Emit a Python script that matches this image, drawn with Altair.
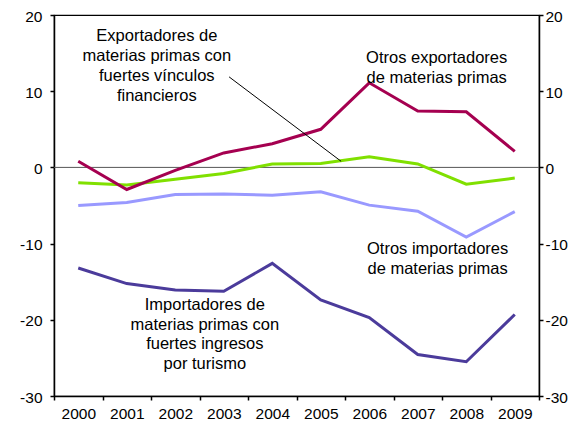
import altair as alt
import pandas as pd

years = list(range(2000, 2010))
otros_export = [0.8, -2.9, -0.4, 1.9, 3.1, 5.0, 11.1, 7.4, 7.3, 2.1]
vinculos = [-2.0, -2.3, -1.55, -0.8, 0.45, 0.5, 1.4, 0.45, -2.2, -1.4]
otros_import = [-5.0, -4.6, -3.55, -3.5, -3.65, -3.2, -4.95, -5.75, -9.15, -5.8]
turismo = [-13.2, -15.25, -16.1, -16.25, -12.6, -17.4, -19.7, -24.55, -25.5, -19.3]

series_names = ["Otros importadores", "Turismo", "Vínculos financieros", "Otros exportadores"]
series_vals = [otros_import, turismo, vinculos, otros_export]
series_colors = ["#9999FF", "#4B3B9B", "#80E000", "#A50050"]

y_ticks = [-30, -20, -10, 0, 10, 20]
x_edges = [1999.5 + i for i in range(11)]

ann_text = [
    "Exportadores de", "materias primas con", "fuertes vínculos", "financieros",
    "Otros exportadores", "de materias primas",
    "Otros importadores", "de materias primas",
    "Importadores de", "materias primas con", "fuertes ingresos", "por turismo",
]
ann_x = [2001.62] * 4 + [2007.39] * 2 + [2007.41] * 2 + [2002.61] * 4
ann_y = [17.25, 14.63, 12.01, 9.39,
         14.33, 11.71,
         -10.67, -13.29,
         -18.0, -20.62, -23.24, -25.86]

leader_x = [2003.11]
leader_x2 = [2005.42]
leader_y = [11.88]
leader_y2 = [0.8]

rows = []
for name, vals in zip(series_names, series_vals):
    for yr, v in zip(years, vals):
        rows.append({"year": yr, "value": v, "series": name})
df = pd.DataFrame(rows)

FONT = "Liberation Sans"
FS = 15.5
FS_ANN = 16.5
HYPHEN_LABEL = "datum.value < 0 ? '-' + abs(datum.value) : '' + datum.value"

xscale = alt.Scale(domain=[1999.5, 2009.5], nice=False, zero=False)
yscale = alt.Scale(domain=[-30, 20], nice=False, zero=False)

lines = alt.Chart(df).mark_line(strokeWidth=3).encode(
    x=alt.X("year:Q", scale=xscale, title=None,
            axis=alt.Axis(orient="bottom", values=years, format="d", ticks=False, tickSize=0,
                          labelPadding=10, domain=True, domainColor="black", domainWidth=1.5,
                          grid=False, labelFont=FONT, labelFontSize=FS, labelColor="black")),
    y=alt.Y("value:Q", scale=yscale, title=None,
            axis=alt.Axis(orient="left", values=y_ticks, tickSize=4, tickColor="black",
                          tickWidth=1.5, labelPadding=8, domainColor="black", domainWidth=1.5,
                          labelExpr=HYPHEN_LABEL, labelOffset=1,
                          grid=False, labelFont=FONT, labelFontSize=FS, labelColor="black")),
    color=alt.Color("series:N", scale=alt.Scale(domain=series_names, range=series_colors), legend=None),
    order=alt.Order("year:Q"),
)

zero_df = pd.DataFrame({"x0": [x_edges[0]], "x1": [x_edges[-1]], "y": [0]})
zero = alt.Chart(zero_df).mark_rule(color="#555555", strokeWidth=1).encode(
    x=alt.X("x0:Q", scale=xscale, title=None,
            axis=alt.Axis(orient="bottom", values=x_edges, labels=False, tickSize=4,
                          tickColor="black", tickWidth=1.5, domain=False, grid=False)),
    x2="x1:Q",
    y=alt.Y("y:Q", scale=yscale, title=None,
            axis=alt.Axis(orient="right", values=y_ticks, tickSize=4, tickColor="black",
                          tickWidth=1.5, labelPadding=2, domainColor="black", domainWidth=1.5,
                          labelExpr=HYPHEN_LABEL, labelOffset=1,
                          grid=False, labelFont=FONT, labelFontSize=FS, labelColor="black")),
)

ann_df = pd.DataFrame({"x": ann_x, "y": ann_y, "t": ann_text})
ann = alt.Chart(ann_df).mark_text(font=FONT, fontSize=FS_ANN, color="black", align="center",
                                  baseline="middle").encode(
    x=alt.X("x:Q", scale=xscale, axis=None),
    y=alt.Y("y:Q", scale=yscale, axis=None),
    text="t:N",
)

lead_df = pd.DataFrame({"x": leader_x, "x2": leader_x2, "y": leader_y, "y2": leader_y2})
leader = alt.Chart(lead_df).mark_rule(color="black", strokeWidth=1).encode(
    x=alt.X("x:Q", scale=xscale, axis=None),
    x2="x2:Q",
    y=alt.Y("y:Q", scale=yscale, axis=None),
    y2="y2:Q",
)

chart = alt.layer(zero, lines, leader, ann).resolve_axis(
    x="independent", y="independent"
).properties(
    width=485, height=381,
    autosize=alt.AutoSizeParams(type="none"),
    padding={"left": 46, "top": 7, "right": 30, "bottom": 27},
).configure_view(stroke="black", strokeWidth=1.2)

chart.save("out.html", embed_options={"renderer": "svg", "actions": False})
